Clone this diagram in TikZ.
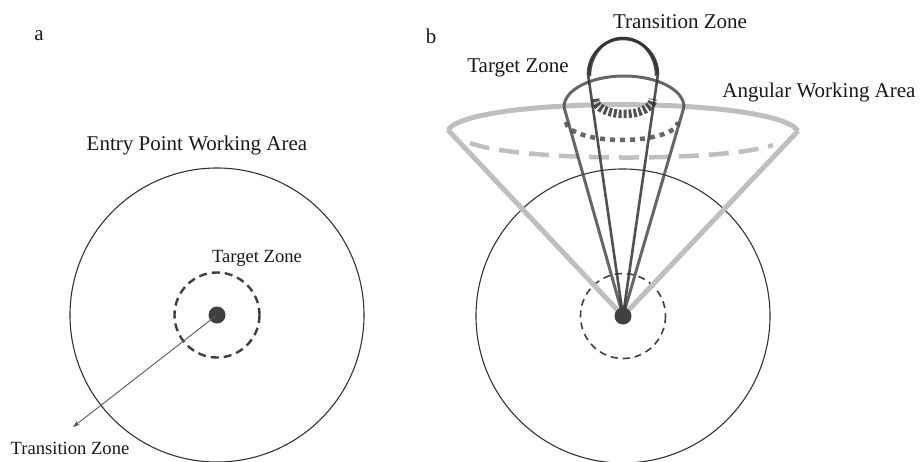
\documentclass[tikz,border=0pt]{standalone}
\usepackage{fontspec}
\usetikzlibrary{arrows.meta}
\setmainfont{Liberation Serif}
\begin{document}
\begin{tikzpicture}[x=1pt,y=-1pt,
  lbl/.style={font=\fontsize{21}{25}\selectfont, text=black!90, inner sep=0pt},
  slbl/.style={font=\fontsize{18.6}{22}\selectfont, text=black!90, inner sep=0pt},
  outline/.style={draw=black!80, line width=1.1pt},
  tzdash/.style={draw=black!75, line width=2.4pt, dash pattern=on 8pt off 5pt},
  cone/.style={draw=black!25, line width=5pt, line join=round},
  tcone/.style={draw=black!70, line width=3pt, opacity=0.85, line join=round},
  icone/.style={draw=black!80, line width=2.6pt, opacity=0.85, line join=round},
  dotst/.style={circle, fill=black!75, minimum size=17pt, inner sep=0pt}]
\useasboundingbox (0,0) rectangle (921,461);
% ---------- panel a ----------
\node[lbl] (la) at (39,36) {a};
\node[lbl] (epwa) at (197,145) {Entry Point Working Area};
\coordinate (ca) at (217,315);
\draw[outline] (ca) circle (147);
\draw[tzdash] (ca) circle (42.5);
\node[dotst] (dota) at (217,315) {};
\node[slbl] (tza) at (257,258) {Target Zone};
\node[slbl] (trza) at (70,448) {Transition Zone};
\coordinate (arrend) at (73,427);
\draw[draw=black!65, line width=0.9pt, -{Stealth[length=7pt,width=5pt]}] (dota.center) -- (arrend);
% ---------- panel b ----------
\node[lbl] (lb) at (431,36) {b};
\coordinate (cb) at (623,316);
\draw[outline] (cb) circle (147);
\draw[draw=black!75, line width=1.6pt, dash pattern=on 7pt off 5pt] (cb) circle (42.5);
% angular working area cone
\coordinate (gl) at (448,130);
\coordinate (gr) at (798,131);
\draw[cone] (gl) -- (cb) -- (gr);
\draw[cone] (gl) .. controls (470,96) and (775,96) .. (gr);
\draw[cone, dash pattern=on 20pt off 10pt, line width=4.5pt] (470,143) .. controls (520,162) and (725,162) .. (773,145);
% target zone cone
\coordinate (tl) at (564,107);
\coordinate (tr) at (684,107);
\draw[tcone] (tl) -- (cb) -- (tr);
\draw[tcone] (tl) arc[start angle=180, end angle=360, x radius=60, y radius=31];
\draw[tcone, line width=4.5pt, dash pattern=on 5pt off 5pt] (566,122) arc[start angle=180, end angle=0, x radius=56, y radius=18];
% transition zone cone
\coordinate (il) at (588,74);
\coordinate (ir) at (658,74);
\draw[icone] (il) -- (cb) -- (ir);
\draw[icone] (il) arc[start angle=180, end angle=360, radius=35];
\draw[icone, line width=2.4pt] (589,74) arc[start angle=180, end angle=360, x radius=34, y radius=36];
\draw[icone, line width=2.4pt] (590,76) arc[start angle=180, end angle=360, x radius=33, y radius=38];
\draw[icone, line width=8.5pt, dash pattern=on 3pt off 2pt] (595,99) arc[start angle=180, end angle=0, x radius=29, y radius=15];
\node[dotst] (dotb) at (623,316) {};
\node[lbl] (trzb) at (680,22) {Transition Zone};
\node[lbl] (tzb) at (518,68) {Target Zone};
\node[lbl] (awa) at (819,92) {Angular Working Area};
\end{tikzpicture}
\end{document}
